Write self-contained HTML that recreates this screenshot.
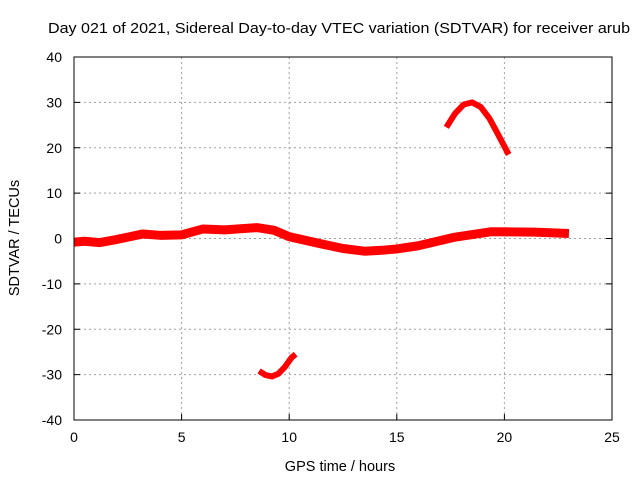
<!DOCTYPE html>
<html><head><meta charset="utf-8"><style>
body{margin:0;background:#fff}
svg text{font-family:"Liberation Sans",sans-serif;fill:#000}
</style></head><body>
<svg id="chart" width="640" height="480" xmlns="http://www.w3.org/2000/svg">
<text x="339" y="33" text-anchor="middle" font-size="14.5" textLength="582" lengthAdjust="spacingAndGlyphs">Day 021 of 2021, Sidereal Day-to-day VTEC variation (SDTVAR) for receiver arub</text>
<text x="340" y="471" text-anchor="middle" font-size="14.5">GPS time / hours</text>
<text transform="translate(19,238) rotate(-90)" text-anchor="middle" font-size="14.5">SDTVAR / TECUs</text>
<g id="grid"></g><g id="ticks"></g><g id="series"></g>
<rect x="74" y="57" width="538" height="363" fill="none" stroke="#000" stroke-width="1"/>
</svg>
<script>
const xTicks=[0,5,10,15,20,25];
const yTicks=[-40,-30,-20,-10,0,10,20,30,40];
const mainHours=[0,0.5,1.2,2,3.2,4,5,6,7,8.5,9.3,10,11.5,12.5,13.5,14.3,15,16,17.7,19.4,21.4,23];
const mainValues=[-0.8,-0.6,-0.9,-0.2,1.0,0.7,0.8,2.1,1.9,2.4,1.8,0.4,-1.2,-2.2,-2.8,-2.6,-2.3,-1.6,0.3,1.5,1.4,1.1];
const upperHours=[17.3,17.7,18.1,18.5,18.9,19.3,19.7,20.2];
const upperValues=[24.5,27.5,29.5,30,29,26.5,23,18.5];
const lowerHours=[8.6,8.9,9.2,9.5,9.8,10.1,10.3];
const lowerValues=[-29.2,-30.1,-30.4,-29.8,-28.3,-26.3,-25.5];
const X=h=>74+h*(538/25);
const Y=v=>238.5-v*(363/80);
const NS="http://www.w3.org/2000/svg";
const grid=document.getElementById('grid'),ticks=document.getElementById('ticks'),ser=document.getElementById('series');
function mk(tag,attrs,parent){const e=document.createElementNS(NS,tag);for(const k in attrs)e.setAttribute(k,attrs[k]);parent.appendChild(e);return e;}
xTicks.forEach(t=>{
  if(t>0&&t<25){const g=mk('line',{x1:X(t),x2:X(t),y1:57,y2:420,stroke:'#a0a0a0','stroke-dasharray':'2,3'},grid);
  
  }
  const tk=mk('line',{x1:X(t),x2:X(t),y1:420,y2:414,stroke:'#000'},ticks);
  
  
  const l=mk('text',{x:X(t),y:442,'text-anchor':'middle','font-size':'14'},ticks);l.textContent=t;
  
  
});
yTicks.forEach(t=>{
  if(t>-40&&t<40){const g=mk('line',{x1:74,x2:612,y1:Y(t),y2:Y(t),stroke:'#a0a0a0','stroke-dasharray':'2,3'},grid);
  
  }
  const tk=mk('line',{x1:74,x2:80,y1:Y(t),y2:Y(t),stroke:'#000'},ticks);
  
  
  const tk2=mk('line',{x1:606,x2:612,y1:Y(t),y2:Y(t),stroke:'#000'},ticks);
  
  
  const l=mk('text',{x:62,y:Y(t)+5,'text-anchor':'end','font-size':'14'},ticks);l.textContent=t;
  
  
});
function line(hs,vs,w,name){
  const p=mk('polyline',{points:hs.map((h,i)=>X(h)+','+Y(vs[i])).join(' '),fill:'none',stroke:'#ff0000','stroke-width':w,'stroke-linejoin':'round','stroke-linecap':'butt'},ser);
  
  
}
line(mainHours,mainValues,9,'main-sdtvar-series');
line(upperHours,upperValues,6,'upper-arc-series');
line(lowerHours,lowerValues,6,'lower-arc-series');
</script>
</body></html>
